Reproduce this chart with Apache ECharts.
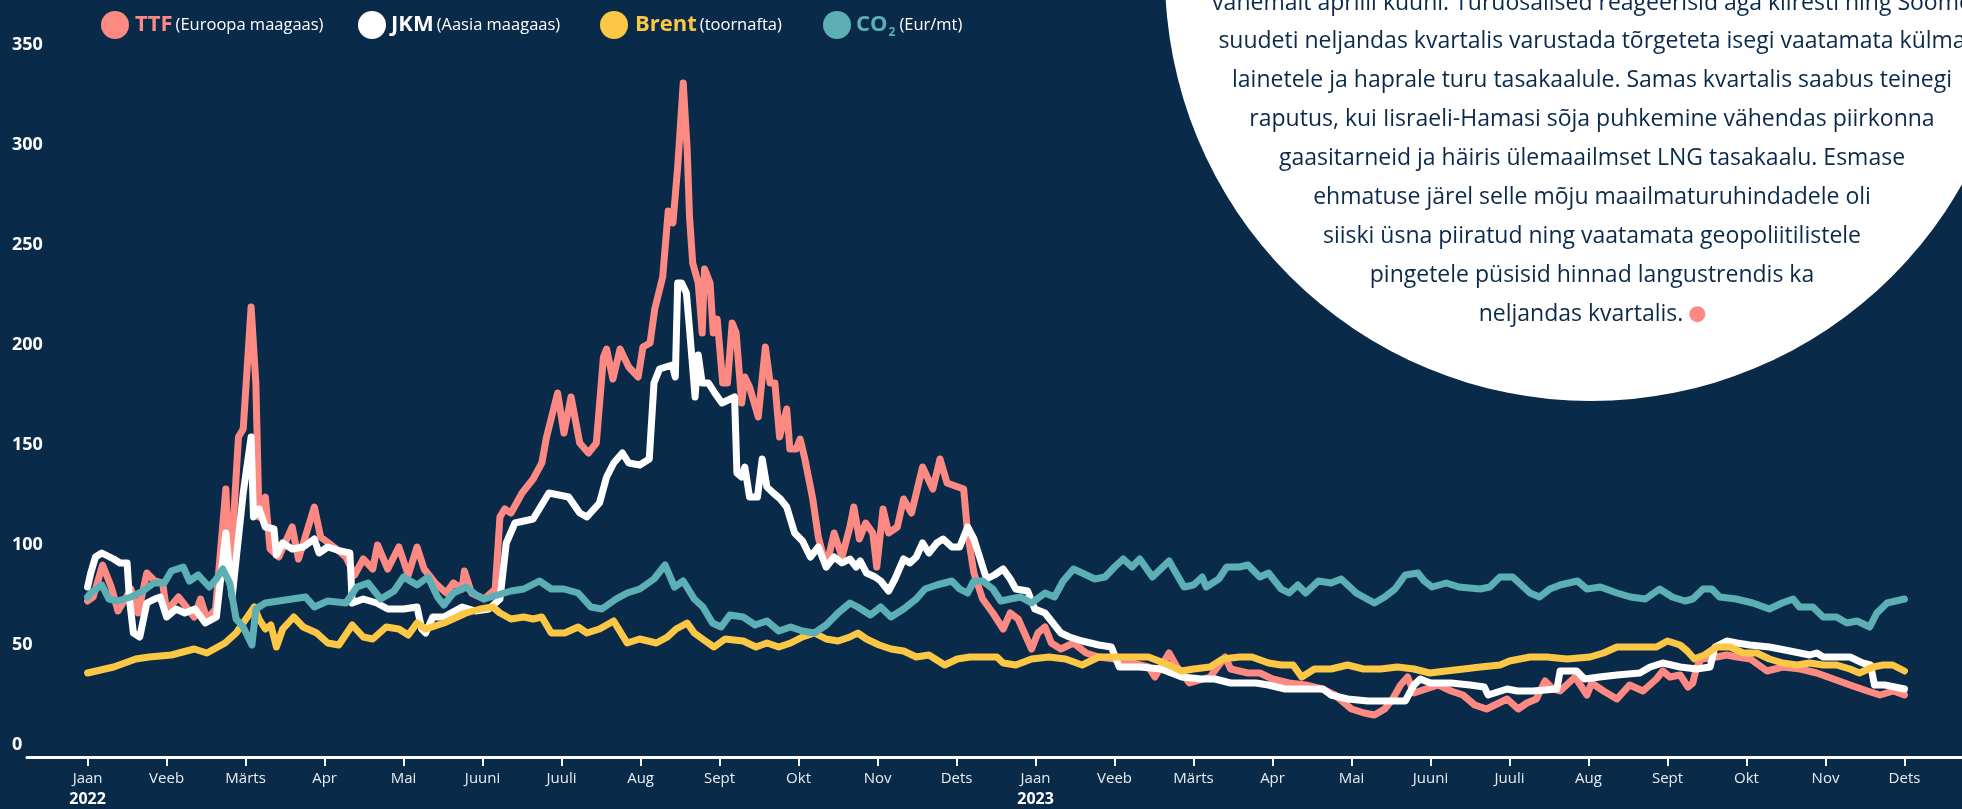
<!DOCTYPE html>
<html>
<head>
<meta charset="utf-8">
<title>Energia hinnad 2022-2023</title>
<script src="https://cdn.jsdelivr.net/npm/echarts@6.0.0/dist/echarts.min.js"></script>
<style>
  html, body { margin: 0; padding: 0; background: #0a2a4a; }
  #chartmain { width: 1962px; height: 809px; }
</style>
</head>
<body>
<div id="chartmain"></div>
<script type="text/javascript">
// x = kuu indeks (0 = jaan 2022, 23 = dets 2023)
var monthLabels = ['Jaan', 'Veeb', 'Märts', 'Apr', 'Mai', 'Juuni', 'Juuli', 'Aug', 'Sept', 'Okt', 'Nov', 'Dets',
                   'Jaan', 'Veeb', 'Märts', 'Apr', 'Mai', 'Juuni', 'Juuli', 'Aug', 'Sept', 'Okt', 'Nov', 'Dets'];
var yearLabels = { 0: '2022', 12: '2023' };
var yTicks = [0, 50, 100, 150, 200, 250, 300, 350];

var ttf = [[0,78],[0.07,80],[0.19,96],[0.3,85],[0.385,73],[0.55,84],[0.64,72],[0.75,92],[0.85,88],[0.95,87],[1.0,73],[1.15,80],[1.35,70],[1.43,79],[1.51,69],[1.62,74],[1.75,134],[1.8,87],[1.91,160],[1.97,164],[2.07,225],[2.13,187],[2.17,120],[2.25,130],[2.31,104],[2.42,100],[2.59,115],[2.67,99],[2.87,125],[2.95,110],[3.15,104],[3.27,100],[3.38,91],[3.49,99],[3.61,94],[3.67,106],[3.8,94],[3.94,105],[4.06,91],[4.17,105],[4.26,94],[4.4,87],[4.54,82],[4.63,87],[4.74,84],[4.77,93],[4.86,82],[5.02,79],[5.16,84],[5.22,120],[5.28,124],[5.36,122],[5.5,132],[5.64,139],[5.75,147],[5.81,160],[5.95,182],[6.03,162],[6.12,180],[6.23,157],[6.34,152],[6.44,157],[6.53,200],[6.57,204],[6.65,189],[6.74,204],[6.85,195],[6.97,190],[7.03,205],[7.12,207],[7.18,224],[7.28,240],[7.35,273],[7.41,267],[7.47,295],[7.54,337],[7.59,304],[7.62,270],[7.66,247],[7.73,237],[7.78,212],[7.81,244],[7.88,237],[7.92,212],[7.97,219],[8.04,187],[8.1,187],[8.16,217],[8.21,212],[8.28,177],[8.32,190],[8.38,185],[8.49,170],[8.58,205],[8.64,187],[8.7,187],[8.76,160],[8.85,174],[8.89,154],[8.97,154],[9.02,159],[9.08,149],[9.18,129],[9.25,110],[9.35,95],[9.45,112],[9.55,100],[9.65,115],[9.7,125],[9.77,109],[9.85,117],[9.94,112],[9.99,95],[10.07,124],[10.14,112],[10.25,115],[10.33,129],[10.43,122],[10.57,145],[10.7,134],[10.79,149],[10.88,137],[11.02,135],[11.09,134],[11.14,112],[11.22,92],[11.33,79],[11.46,72],[11.59,64],[11.68,72],[11.78,69],[11.95,54],[12.03,62],[12.12,65],[12.2,57],[12.32,54],[12.48,57],[12.64,52],[12.8,50],[13.0,49],[13.22,47],[13.43,45],[13.51,40],[13.69,52],[13.79,45],[13.95,37],[14.21,40],[14.4,50],[14.47,44],[14.69,42],[14.84,42],[15.0,39],[15.21,37],[15.42,36],[15.63,34],[15.79,31],[16.0,24],[16.16,22],[16.29,21],[16.42,24],[16.52,29],[16.62,36],[16.71,40],[16.79,32],[16.94,34],[17.1,36],[17.26,33],[17.41,31],[17.56,26],[17.71,24],[17.97,29],[18.11,24],[18.22,27],[18.34,29],[18.45,38],[18.55,34],[18.64,33],[18.83,40],[18.98,31],[19.04,37],[19.19,33],[19.36,29],[19.52,36],[19.69,33],[19.86,39],[19.94,43],[20.03,40],[20.16,41],[20.26,35],[20.32,37],[20.37,45],[20.43,49],[20.62,50],[20.75,51],[20.88,50],[21.05,49],[21.26,43],[21.46,45],[21.68,44],[21.89,42],[22.1,39],[22.31,36],[22.53,33],[22.69,31],[22.86,33],[23.0,31]];

var jkm = [[0,85],[0.04,92],[0.1,100],[0.18,102],[0.33,99],[0.41,97],[0.5,97],[0.53,79],[0.58,62],[0.66,60],[0.75,77],[0.85,79],[0.92,80],[1.0,70],[1.12,74],[1.23,72],[1.36,74],[1.49,67],[1.63,70],[1.75,112],[1.83,80],[1.97,132],[2.07,160],[2.1,120],[2.17,124],[2.25,115],[2.36,114],[2.39,101],[2.47,107],[2.59,104],[2.73,105],[2.87,109],[2.93,102],[3.04,105],[3.2,103],[3.32,102],[3.35,77],[3.49,79],[3.66,77],[3.8,74],[4.0,74],[4.17,75],[4.23,64],[4.28,62],[4.37,70],[4.51,70],[4.74,75],[4.91,73],[5.08,74],[5.22,79],[5.3,107],[5.41,117],[5.64,119],[5.84,132],[6.09,130],[6.23,122],[6.32,120],[6.48,127],[6.57,140],[6.66,147],[6.77,152],[6.85,147],[6.99,146],[7.11,149],[7.17,187],[7.24,194],[7.4,196],[7.44,190],[7.47,237],[7.52,237],[7.58,232],[7.62,214],[7.69,180],[7.73,201],[7.78,187],[7.86,187],[7.94,182],[8.03,177],[8.19,180],[8.22,142],[8.28,140],[8.32,145],[8.38,130],[8.48,130],[8.54,149],[8.6,135],[8.68,132],[8.77,129],[8.85,125],[8.95,112],[9.05,108],[9.15,100],[9.25,105],[9.35,95],[9.45,100],[9.55,97],[9.65,99],[9.73,95],[9.78,98],[9.86,92],[9.97,90],[10.04,88],[10.14,83],[10.22,89],[10.33,99],[10.41,97],[10.49,100],[10.57,107],[10.65,102],[10.75,107],[10.83,109],[10.94,105],[11.04,105],[11.14,115],[11.22,109],[11.3,99],[11.38,89],[11.48,91],[11.59,94],[11.68,89],[11.75,84],[11.9,83],[11.99,74],[12.12,72],[12.22,67],[12.32,62],[12.43,60],[12.59,58],[12.8,56],[12.96,55],[13.06,45],[13.32,45],[13.59,44],[13.85,40],[14.1,39],[14.27,39],[14.47,37],[14.79,37],[14.95,36],[15.16,34],[15.42,34],[15.64,34],[15.74,31],[15.95,29],[16.21,28],[16.47,28],[16.68,28],[16.79,36],[16.87,39],[17.0,37],[17.26,37],[17.5,36],[17.68,35],[17.73,31],[17.97,34],[18.1,33],[18.3,33],[18.6,34],[18.64,43],[18.85,43],[18.95,39],[19.14,40],[19.36,41],[19.65,42],[19.78,45],[19.94,47],[20.16,45],[20.37,44],[20.54,45],[20.6,55],[20.75,58],[20.88,57],[21.04,56],[21.29,55],[21.55,53],[21.8,51],[21.89,52],[21.97,50],[22.31,50],[22.47,47],[22.57,46],[22.62,36],[22.75,36],[23.0,34]];

var brent = [[0,42],[0.33,45],[0.61,49],[0.78,50],[1.06,51],[1.35,54],[1.51,52],[1.74,57],[1.88,62],[1.97,67],[2.11,75],[2.17,69],[2.25,64],[2.32,66],[2.39,55],[2.47,64],[2.61,70],[2.73,65],[2.9,62],[3.04,57],[3.18,56],[3.35,66],[3.49,60],[3.61,59],[3.78,65],[3.94,64],[4.06,61],[4.17,67],[4.28,64],[4.51,67],[4.68,70],[4.79,72],[4.97,74],[5.13,75],[5.22,72],[5.36,69],[5.52,70],[5.64,69],[5.75,70],[5.87,62],[6.04,62],[6.21,65],[6.32,62],[6.48,64],[6.66,68],[6.83,57],[6.99,59],[7.2,57],[7.34,60],[7.45,64],[7.59,67],[7.68,62],[7.82,58],[7.93,55],[8.07,59],[8.3,58],[8.46,55],[8.6,57],[8.75,55],[8.9,57],[9.05,60],[9.2,62],[9.35,59],[9.5,58],[9.65,60],[9.75,62],[9.86,59],[10.02,56],[10.17,54],[10.33,53],[10.49,50],[10.65,51],[10.85,46],[11.01,49],[11.17,50],[11.38,50],[11.51,50],[11.59,47],[11.75,46],[11.95,49],[12.17,50],[12.38,49],[12.59,46],[12.8,50],[13.01,50],[13.22,50],[13.43,50],[13.69,46],[13.85,43],[14.0,44],[14.21,45],[14.37,49],[14.58,50],[14.74,50],[14.95,47],[15.11,46],[15.26,46],[15.37,40],[15.53,44],[15.74,44],[15.95,46],[16.15,44],[16.37,44],[16.58,45],[16.79,44],[16.99,42],[17.2,43],[17.42,44],[17.63,45],[17.88,46],[18.0,48],[18.26,50],[18.47,50],[18.73,49],[19.02,50],[19.19,52],[19.36,55],[19.61,55],[19.86,55],[20.0,58],[20.16,56],[20.25,53],[20.34,49],[20.47,51],[20.62,55],[20.79,55],[20.96,52],[21.13,52],[21.29,49],[21.46,47],[21.64,46],[21.8,47],[21.97,46],[22.14,46],[22.31,44],[22.43,42],[22.6,45],[22.73,46],[22.85,46],[23.0,43]];

var co2 = [[0,80],[0.04,82],[0.18,86],[0.27,79],[0.38,78],[0.55,80],[0.7,83],[0.84,87],[0.97,87],[1.06,93],[1.21,95],[1.29,88],[1.4,91],[1.54,85],[1.63,89],[1.71,94],[1.8,87],[1.88,69],[1.97,65],[2.08,56],[2.13,74],[2.25,77],[2.42,78],[2.59,79],[2.76,80],[2.87,75],[3.04,78],[3.27,77],[3.41,85],[3.55,87],[3.71,79],[3.88,83],[4.0,90],[4.17,86],[4.31,90],[4.43,80],[4.51,76],[4.63,82],[4.79,85],[4.92,81],[5.02,79],[5.19,81],[5.36,83],[5.52,84],[5.72,88],[5.87,84],[6.03,84],[6.21,82],[6.37,75],[6.51,74],[6.69,79],[6.83,82],[6.99,84],[7.17,89],[7.31,96],[7.43,85],[7.54,88],[7.68,79],[7.79,75],[7.91,67],[8.02,65],[8.13,71],[8.3,70],[8.45,66],[8.6,68],[8.75,63],[8.9,65],[9.05,63],[9.2,62],[9.35,66],[9.5,72],[9.65,77],[9.75,75],[9.91,71],[10.04,75],[10.17,70],[10.33,74],[10.49,79],[10.6,84],[10.75,86],[10.94,88],[11.04,84],[11.14,82],[11.22,88],[11.33,88],[11.46,84],[11.56,78],[11.68,79],[11.81,80],[11.95,77],[12.12,82],[12.24,80],[12.35,88],[12.48,94],[12.59,92],[12.75,89],[12.88,90],[13.0,95],[13.11,99],[13.22,95],[13.32,99],[13.48,90],[13.69,98],[13.88,85],[14.0,86],[14.11,90],[14.16,85],[14.32,89],[14.42,95],[14.58,95],[14.69,96],[14.84,90],[14.95,92],[15.11,84],[15.21,82],[15.32,86],[15.42,82],[15.58,88],[15.74,87],[15.87,89],[16.06,82],[16.15,80],[16.29,77],[16.42,80],[16.55,84],[16.68,91],[16.84,92],[16.92,88],[17.02,85],[17.2,87],[17.36,85],[17.63,84],[17.75,85],[17.88,90],[18.04,90],[18.26,82],[18.38,80],[18.51,84],[18.64,86],[18.86,88],[18.98,84],[19.15,85],[19.36,82],[19.53,80],[19.72,79],[19.9,84],[20.06,80],[20.22,78],[20.32,79],[20.45,84],[20.56,84],[20.66,80],[20.87,79],[21.08,77],[21.29,74],[21.45,77],[21.59,79],[21.67,75],[21.84,75],[21.97,70],[22.14,70],[22.27,67],[22.4,68],[22.56,65],[22.65,72],[22.78,77],[23.0,79]];

var circleText = [
  'vähemalt aprilli kuuni. Turuosalised reageerisid aga kiiresti ning Soome',
  'suudeti neljandas kvartalis varustada tõrgeteta isegi vaatamata külma',
  'lainetele ja haprale turu tasakaalule. Samas kvartalis saabus teinegi',
  'raputus, kui Iisraeli-Hamasi sõja puhkemine vähendas piirkonna',
  'gaasitarneid ja häiris ülemaailmset LNG tasakaalu. Esmase',
  'ehmatuse järel selle mõju maailmaturuhindadele oli',
  'siiski üsna piiratud ning vaatamata geopoliitilistele',
  'pingetele püsisid hinnad langustrendis ka',
  'neljandas kvartalis. {d| }'
];

var C_TTF = '#fd8a82', C_JKM = '#ffffff', C_BRENT = '#fbc745', C_CO2 = '#5cafb4';
var NAVY = '#0a2a4a';
var FONT = '"Open Sans", "Noto Sans", sans-serif';

var myChart = echarts.init(document.getElementById('chartmain'));

function lineSeries(name, color, data) {
  return {
    name: name,
    type: 'line',
    data: data,
    showSymbol: false,
    symbol: 'none',
    lineStyle: { color: color, width: 7, cap: 'round', join: 'round' },
    itemStyle: { color: color }
  };
}

// legend as graphic
var legendItems = [
  { dot: 115, x: 135, color: C_TTF, b: 'TTF', s: '(Euroopa maagaas)' },
  { dot: 372, x: 391, color: C_JKM, b: 'JKM', s: '(Aasia maagaas)' },
  { dot: 614, x: 635, color: C_BRENT, b: 'Brent', s: '(toornafta)' },
  { dot: 837, x: 856, color: C_CO2, b: 'CO', sub: '2', s: '(Eur/mt)' }
];
var graphics = [];
legendItems.forEach(function (it) {
  graphics.push({ type: 'circle', shape: { cx: it.dot, cy: 25, r: 14 }, style: { fill: it.color } });
  var txt = '{b|' + it.b + '}' + (it.sub ? '{sub|' + it.sub + '}' : '') + '{s|' + it.s + '}';
  graphics.push({
    type: 'text', x: it.x, y: 25,
    style: {
      text: txt, verticalAlign: 'middle', align: 'left',
      rich: {
        b: { fontFamily: FONT, fontWeight: 'bold', fontSize: 22, fill: it.color, lineHeight: 28 },
        sub: { fontFamily: FONT, fontWeight: 'bold', fontSize: 12, fill: it.color, verticalAlign: 'bottom', lineHeight: 14, padding: [0, 1, 0, 1] },
        s: { fontFamily: FONT, fontSize: 16.5, fill: '#ffffff', padding: [0, 0, 0, 3], lineHeight: 28 }
      }
    }
  });
});

// big white circle with text
graphics.push({ type: 'circle', z: 10, shape: { cx: 1591, cy: -25, r: 426 }, style: { fill: '#ffffff' } });
circleText.forEach(function (line, i) {
  graphics.push({
    type: 'text', z: 11, x: 1592, y: 3 + i * 38.9,
    style: {
      text: line, align: 'center', verticalAlign: 'middle',
      fontFamily: FONT, fontSize: 23, fill: '#0b2a4b',
      rich: { d: { width: 16, height: 16, backgroundColor: C_TTF, borderRadius: 8 } }
    }
  });
});

var tickVals = monthLabels.map(function (m, i) { return i; });

myChart.setOption({
  animation: false,
  backgroundColor: NAVY,
  grid: { left: 27, right: 0, top: 57, bottom: 51 },
  xAxis: {
    type: 'value',
    min: -0.767,
    max: 23.728,
    axisLine: { show: true, onZero: false, lineStyle: { color: '#ffffff', width: 3 } },
    axisTick: { show: true, customValues: tickVals, length: 9, lineStyle: { color: '#ffffff', width: 2 } },
    axisLabel: {
      customValues: tickVals,
      color: '#e8edf2',
      fontFamily: FONT,
      fontSize: 15,
      lineHeight: 20,
      margin: 12,
      formatter: function (v) {
        var i = Math.round(v);
        var s = monthLabels[i] || '';
        if (yearLabels[i]) s += '\n{y|' + yearLabels[i] + '}';
        return s;
      },
      rich: { y: { fontFamily: FONT, fontWeight: 'bold', fontSize: 16, lineHeight: 20, color: '#ffffff' } }
    },
    splitLine: { show: false }
  },
  yAxis: {
    type: 'value',
    min: 0,
    max: 350,
    interval: 50,
    axisLine: { show: false },
    axisTick: { show: false },
    splitLine: { show: false },
    axisLabel: {
      customValues: yTicks,
      align: 'left',
      verticalAlign: 'bottom',
      margin: 15,
      padding: [0, 0, 3, 0],
      color: '#ffffff',
      fontFamily: FONT,
      fontWeight: 'bold',
      fontSize: 18
    }
  },
  series: [
    lineSeries('TTF', C_TTF, ttf),
    lineSeries('JKM', C_JKM, jkm),
    lineSeries('Brent', C_BRENT, brent),
    lineSeries('CO2', C_CO2, co2)
  ],
  graphic: graphics
});
</script>
</body>
</html>
